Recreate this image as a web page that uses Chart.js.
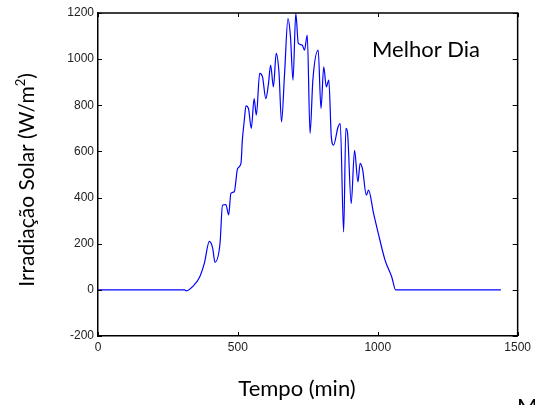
<!DOCTYPE html>
<html>
<head>
<meta charset="utf-8">
<script src="https://cdn.jsdelivr.net/npm/chart.js@4/dist/chart.umd.min.js"></script>
<style>
  body { margin: 0; background: #fff; }
  #wrap { width: 535px; height: 405px; }
</style>
</head>
<body>
<div id="wrap"><canvas id="grafico" width="535" height="405"></canvas></div>
<script>
// tempo (min) e irradiacao solar (W/m2)
var tempo = [0, 310, 315, 339, 363, 380, 398, 410, 418, 436, 445, 457, 467, 475, 487, 499, 511, 516, 523, 529,
             538, 548, 558, 566, 578, 588, 600, 609, 617, 627, 637, 647, 656, 667, 679, 688, 697, 707, 716, 730,
             738, 748, 758, 768, 787, 797, 807, 816, 825, 834, 842, 858, 866, 878, 886, 892, 905, 917, 929, 937,
             946, 959, 967, 985, 1002, 1026, 1050, 1064, 1440];
var irradiacao = [0, 0, -4, 15, 55, 115, 210, 180, 120, 200, 367, 370, 325, 418, 425, 526, 548, 650, 735, 798,
                  785, 700, 829, 757, 938, 923, 829, 890, 974, 880, 1025, 940, 728, 940, 1176, 1097, 909, 1198, 1068, 1061,
                  1039, 1104, 678, 909, 1039, 786, 967, 880, 909, 663, 627, 706, 721, 251, 700, 680, 374, 605, 468, 548,
                  520, 410, 432, 331, 244, 129, 56, 0, 0];
var xTicks = [0, 500, 1000, 1500];
var yTicks = [-200, 0, 200, 400, 600, 800, 1000, 1200];

var pontos = [];
for (var i = 0; i < tempo.length; i++) {
    pontos.push({x: tempo[i], y: irradiacao[i]});
}

// caixa com marcas para dentro e os textos
var moldura = {
    id: 'moldura',
    afterDraw: function(chart) {
        var ctx = chart.ctx;
        var a = chart.chartArea;
        var sx = chart.scales.x, sy = chart.scales.y;
        ctx.save();
        ctx.strokeStyle = '#000';
        ctx.lineWidth = 1.5;
        ctx.beginPath();
        ctx.moveTo(a.left, a.top); ctx.lineTo(a.right, a.top); ctx.lineTo(a.right, a.bottom);
        ctx.stroke();
        ctx.lineWidth = 1;
        ctx.beginPath();
        xTicks.forEach(function(v) {
            var px = Math.round(sx.getPixelForValue(v)) + 0.5;
            ctx.moveTo(px, a.bottom); ctx.lineTo(px, a.bottom - 4);
            ctx.moveTo(px, a.top); ctx.lineTo(px, a.top + 4);
        });
        yTicks.forEach(function(v) {
            var py = Math.round(sy.getPixelForValue(v)) + 0.5;
            ctx.moveTo(a.left, py); ctx.lineTo(a.left + 4, py);
            ctx.moveTo(a.right, py); ctx.lineTo(a.right - 5, py);
        });
        ctx.stroke();

        ctx.fillStyle = '#000';
        ctx.font = '22px Lato';
        ctx.textBaseline = 'alphabetic';
        ctx.textAlign = 'left';
        ctx.fillText('Melhor Dia', 372, 57);

        ctx.textAlign = 'center';
        ctx.fillText('Tempo (min)', 297, 396);

        ctx.textAlign = 'left';
        ctx.fillText('M', 517, 414);

        // titulo do eixo y com o expoente
        ctx.translate(34, 180);
        ctx.rotate(-Math.PI / 2);
        var t1 = 'Irradiação Solar (W/m';
        var t2 = ')';
        ctx.font = '21px Lato';
        var w1 = ctx.measureText(t1).width;
        ctx.font = '13px Lato';
        var we = ctx.measureText('2').width;
        ctx.font = '21px Lato';
        var w2 = ctx.measureText(t2).width;
        var x0 = -(w1 + we + w2) / 2;
        ctx.fillText(t1, x0, 0);
        ctx.font = '13px Lato';
        ctx.fillText('2', x0 + w1, -9);
        ctx.font = '21px Lato';
        ctx.fillText(t2, x0 + w1 + we, 0);
        ctx.restore();
    }
};

new Chart(document.getElementById('grafico'), {
    type: 'line',
    data: {
        datasets: [{
            data: pontos,
            borderColor: '#0000ff',
            borderWidth: 1.2,
            pointRadius: 0,
            fill: false,
            cubicInterpolationMode: 'monotone'
        }]
    },
    options: {
        responsive: false,
        animation: false,
        layout: { padding: { top: 13, right: 15, left: 0, bottom: 0 } },
        plugins: { legend: { display: false }, tooltip: { enabled: false } },
        scales: {
            x: {
                type: 'linear', min: 0, max: 1500,
                afterBuildTicks: function(s) { s.ticks = xTicks.map(function(v) { return {value: v}; }); },
                afterFit: function(s) { s.height = 69; },
                ticks: { color: '#222', font: { family: 'Liberation Sans', size: 12 }, padding: 4, maxRotation: 0,
                         callback: function(v) { return String(v); } },
                grid: { drawOnChartArea: false, drawTicks: false },
                border: { color: '#000', width: 1.5 }
            },
            y: {
                min: -200, max: 1200,
                afterBuildTicks: function(s) { s.ticks = yTicks.map(function(v) { return {value: v}; }); },
                afterFit: function(s) { s.width = 98; },
                ticks: { color: '#222', font: { family: 'Liberation Sans', size: 12 }, padding: 4,
                         callback: function(v) { return String(v); } },
                grid: { drawOnChartArea: false, drawTicks: false },
                border: { color: '#000', width: 1.5 }
            }
        }
    },
    plugins: [moldura]
});
</script>
</body>
</html>
